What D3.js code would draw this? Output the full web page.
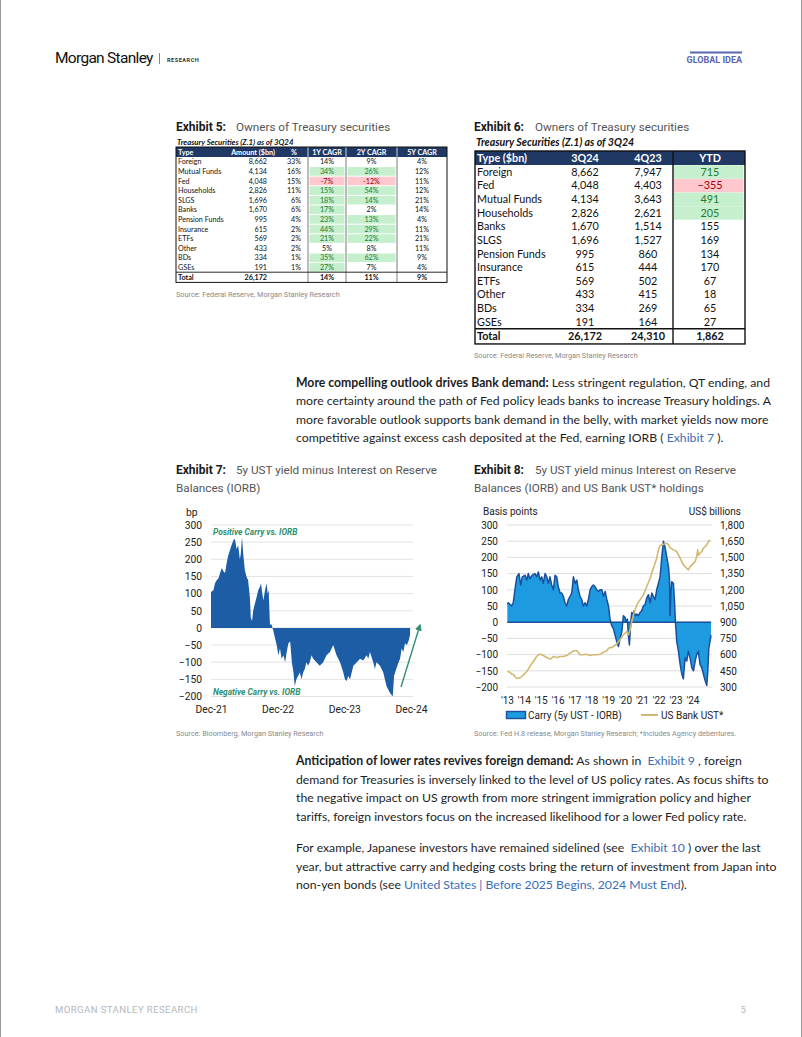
<!DOCTYPE html>
<html><head><meta charset="utf-8">
<script src="https://cdn.jsdelivr.net/npm/d3@7"></script>
<style>body{margin:0;background:#fff}svg{display:block}</style>
</head><body>
<script>
// ---------------- DATA ----------------
const ex5Headers = ["Type","Amount ($bn)","%","1Y CAGR","2Y CAGR","5Y CAGR"];
const ex5Types = ["Foreign","Mutual Funds","Fed","Households","SLGS","Banks","Pension Funds","Insurance","ETFs","Other","BDs","GSEs"];
const ex5Amount = [8662,4134,4048,2826,1696,1670,995,615,569,433,334,191];
const ex5Share = [33,16,15,11,6,6,4,2,2,2,1,1];
const ex5Cagr1y = [14,34,-7,15,18,17,23,44,21,5,35,27];
const ex5Cagr2y = [9,26,-12,54,14,2,13,29,22,8,62,7];
const ex5Cagr5y = [4,12,11,12,21,14,4,11,21,11,9,4];
const ex5Total = [26172,14,11,9];

const ex6Headers = ["Type ($bn)","3Q24","4Q23","YTD"];
const ex6Types = ["Foreign","Fed","Mutual Funds","Households","Banks","SLGS","Pension Funds","Insurance","ETFs","Other","BDs","GSEs"];
const ex6Q324 = [8662,4048,4134,2826,1670,1696,995,615,569,433,334,191];
const ex6Q423 = [7947,4403,3643,2621,1514,1527,860,444,502,415,269,164];
const ex6Ytd = [715,-355,491,205,155,169,134,170,67,18,65,27];
const ex6Total = [26172,24310,1862];

// Exhibit 7: 5y UST minus IORB (bp)
const ex7Dates = ["2021-12-01","2021-12-14","2021-12-23","2022-01-02","2022-01-11","2022-01-20","2022-01-29","2022-02-07","2022-02-16","2022-02-25","2022-03-05","2022-03-14","2022-03-23","2022-04-02","2022-04-11","2022-04-20","2022-04-29","2022-05-08","2022-05-13","2022-05-20","2022-05-26","2022-06-04","2022-06-13","2022-06-22","2022-07-02","2022-07-07","2022-07-14","2022-07-20","2022-07-29","2022-08-08","2022-08-17","2022-08-26","2022-09-01","2022-09-08","2022-09-14","2022-09-23","2022-10-02","2022-10-07","2022-10-13","2022-10-20","2022-10-29","2022-11-08","2022-11-17","2022-11-26","2022-12-05","2022-12-14","2022-12-23","2023-01-02","2023-01-11","2023-01-20","2023-01-29","2023-02-08","2023-02-17","2023-02-26","2023-03-05","2023-03-14","2023-03-23","2023-04-02","2023-04-11","2023-04-20","2023-04-29","2023-05-08","2023-05-17","2023-05-26","2023-06-05","2023-06-14","2023-07-02","2023-07-20","2023-08-08","2023-08-26","2023-09-14","2023-10-02","2023-10-11","2023-10-20","2023-11-08","2023-11-26","2023-12-05","2023-12-14","2023-12-23","2024-01-02","2024-01-11","2024-01-20","2024-02-08","2024-02-26","2024-03-14","2024-04-02","2024-04-11","2024-04-20","2024-05-08","2024-05-17","2024-05-26","2024-06-14","2024-07-02","2024-07-20","2024-08-08","2024-08-23","2024-08-30","2024-09-11","2024-09-24","2024-10-02","2024-10-11","2024-10-20","2024-10-29","2024-11-08","2024-11-17","2024-11-26"];
const ex7Values = [105,110,130,140,145,160,175,165,160,190,210,225,240,255,260,230,240,200,215,265,220,170,150,140,90,30,20,50,70,90,110,120,130,100,80,110,130,100,110,10,10,-10,-30,-50,-80,-60,-90,-80,-100,-70,-45,-40,-100,-130,-170,-150,-140,-130,-150,-130,-120,-100,-110,-100,-80,-90,-100,-110,-100,-80,-70,-50,-65,-80,-100,-130,-150,-155,-140,-150,-130,-110,-100,-90,-95,-80,-90,-70,-100,-120,-100,-110,-130,-170,-190,-200,-140,-120,-100,-90,-60,-70,-45,-50,-40,-20];
const ex7Ticks = [-200,-150,-100,-50,0,50,100,150,200,250,300];
const ex7XTicks = ["2021-12-01","2022-12-01","2023-12-01","2024-12-01"];

// Exhibit 8: carry (bp, left axis) and US bank UST holdings (US$ bn, right axis)
const ex8CarryYears = [2013.02,2013.08,2013.28,2013.37,2013.47,2013.58,2013.71,2013.81,2013.91,2014.07,2014.17,2014.26,2014.36,2014.50,2014.66,2014.76,2014.86,2014.96,2015.06,2015.15,2015.26,2015.36,2015.45,2015.55,2015.65,2015.75,2015.85,2015.95,2016.04,2016.15,2016.25,2016.34,2016.44,2016.54,2016.64,2016.74,2016.84,2016.94,2017.04,2017.14,2017.23,2017.33,2017.43,2017.53,2017.63,2017.73,2017.83,2017.93,2018.03,2018.12,2018.22,2018.32,2018.42,2018.52,2018.62,2018.72,2018.82,2018.92,2019.02,2019.11,2019.21,2019.31,2019.41,2019.51,2019.61,2019.71,2019.81,2019.90,2020.00,2020.06,2020.14,2020.20,2020.26,2020.34,2020.40,2020.50,2020.54,2020.60,2020.70,2020.79,2020.89,2020.99,2021.09,2021.19,2021.29,2021.39,2021.49,2021.59,2021.68,2021.78,2021.88,2021.98,2022.08,2022.18,2022.28,2022.38,2022.48,2022.58,2022.64,2022.67,2022.73,2022.77,2022.87,2022.93,2022.99,2023.07,2023.17,2023.27,2023.37,2023.46,2023.56,2023.66,2023.76,2023.86,2023.96,2024.06,2024.16,2024.25,2024.35,2024.45,2024.55,2024.65,2024.75,2024.85,2024.91,2024.97,2025.04,2025.10];
const ex8Carry = [55,60,50,60,100,140,150,115,140,145,130,150,135,145,150,140,155,130,140,120,150,140,120,140,115,100,145,140,110,90,90,80,60,50,70,80,90,140,120,130,100,80,70,50,60,50,70,100,110,115,110,100,95,100,100,80,95,70,50,10,-10,-20,-40,-60,-75,-50,-30,20,15,0,10,-40,-70,0,30,25,35,20,25,20,30,35,50,55,75,85,60,90,80,70,100,120,140,200,250,230,200,170,130,20,100,125,120,70,0,-60,-90,-130,-160,-175,-110,-120,-90,-110,-140,-150,-120,-100,-90,-130,-140,-160,-180,-195,-150,-80,-60,-40];
const ex8UstYears = [2013.02,2013.18,2013.28,2013.37,2013.47,2013.58,2013.67,2013.81,2013.97,2014.17,2014.36,2014.56,2014.76,2014.86,2014.96,2015.06,2015.15,2015.26,2015.36,2015.55,2015.65,2015.75,2015.95,2016.15,2016.34,2016.54,2016.74,2016.94,2017.14,2017.23,2017.33,2017.53,2017.73,2017.93,2018.12,2018.32,2018.52,2018.72,2018.92,2019.02,2019.11,2019.21,2019.31,2019.51,2019.71,2019.90,2020.10,2020.20,2020.30,2020.40,2020.50,2020.70,2020.89,2021.09,2021.29,2021.49,2021.68,2021.88,2021.98,2022.08,2022.28,2022.48,2022.58,2022.67,2022.87,2023.07,2023.27,2023.46,2023.66,2023.76,2023.86,2023.96,2024.06,2024.16,2024.25,2024.31,2024.35,2024.45,2024.55,2024.65,2024.75,2024.85,2024.95,2025.04];
const ex8Ust = [443,437,418,418,397,381,381,388,412,443,490,536,582,598,604,598,591,582,573,560,567,582,573,582,582,591,613,635,635,622,598,598,604,591,598,598,604,622,635,659,665,665,675,698,740,783,814,783,829,906,968,1060,1107,1153,1230,1307,1400,1493,1570,1610,1622,1631,1616,1591,1570,1554,1493,1431,1400,1385,1415,1431,1446,1462,1508,1570,1520,1539,1554,1585,1600,1616,1647,1662];
const ex8LeftTicks = [-200,-150,-100,-50,0,50,100,150,200,250,300];
const ex8RightTicks = [300,450,600,750,900,1050,1200,1350,1500,1650,1800];
const ex8YearTicks = [2013,2014,2015,2016,2017,2018,2019,2020,2021,2022,2023,2024];

// ---------------- PAGE ----------------
const W = 802, H = 1037;
const svg = d3.select("body").append("svg").attr("width", W).attr("height", H);
const SANS = "Roboto, 'Noto Sans', sans-serif";
const BODY = "Lato, 'Noto Sans', sans-serif";
const TBL = "Lato, 'Noto Sans', sans-serif";

svg.append("rect").attr("width", W).attr("height", H).attr("fill", "#fff");
svg.append("line").attr("x1",0.5).attr("x2",0.5).attr("y1",0).attr("y2",H).attr("stroke","#9a9a9a");
svg.append("line").attr("x1",W-0.5).attr("x2",W-0.5).attr("y1",0).attr("y2",H).attr("stroke","#9a9a9a");

// header
svg.append("text").attr("x",55).attr("y",63).attr("font-family",SANS).attr("font-size",15.5)
  .attr("letter-spacing",-0.7).attr("fill","#111").text("Morgan Stanley");
svg.append("line").attr("x1",159.5).attr("x2",159.5).attr("y1",53).attr("y2",64).attr("stroke","#666").attr("stroke-width",0.8);
svg.append("text").attr("x",167).attr("y",61.5).attr("font-family",SANS).attr("font-weight",700).attr("font-size",5.6)
  .attr("letter-spacing",0.5).attr("fill","#333").text("RESEARCH");
svg.append("line").attr("x1",690).attr("x2",742).attr("y1",52.5).attr("y2",52.5).attr("stroke","#5a66b0").attr("stroke-width",1.8);
svg.append("text").attr("x",742).attr("y",62.5).attr("text-anchor","end").attr("font-family",SANS).attr("font-weight",700)
  .attr("font-size",9).attr("fill","#5a66b0").text("GLOBAL IDEA");

// footer
svg.append("text").attr("x",55).attr("y",1013).attr("font-family",SANS).attr("font-size",9.6).attr("letter-spacing",0.4)
  .attr("fill","#b4b8bd").text("MORGAN STANLEY RESEARCH");
svg.append("text").attr("x",746).attr("y",1013).attr("text-anchor","end").attr("font-family",SANS).attr("font-size",9.6)
  .attr("fill","#b4b8bd").text("5");

function exTitle(x, y, label, lines, descX) {
  svg.append("text").attr("x",x).attr("y",y).attr("font-family",SANS).attr("font-weight",700).attr("font-size",12)
    .attr("fill","#1a1a1a").text(label);
  lines.forEach((t,i)=>{
    svg.append("text").attr("x", i===0 ? descX : x).attr("y", y + i*18).attr("font-family",SANS).attr("font-size",11.7)
      .attr("fill","#555").text(t);
  });
}
function source(x, y, t) {
  svg.append("text").attr("x",x).attr("y",y).attr("font-family",SANS).attr("font-size",7.3).attr("fill","#8a8a8a").text(t);
}

const NAVY = "#1f3864", GREEN_BG = "#c6efce", GREEN_TX = "#1e7b34", RED_BG = "#ffc7ce", RED_TX = "#9c0006";
const fmtC = d3.format(",");

// ---------------- EXHIBIT 5 ----------------
exTitle(176, 131, "Exhibit 5:", ["Owners of Treasury securities"], 236);
svg.append("text").attr("x",177).attr("y",144.5).attr("font-family",TBL).attr("font-style","italic").attr("font-weight",700)
  .attr("font-size",7.8).attr("fill","#111").text("Treasury Securities (Z.1) as of 3Q24");
(function(){
  const g = svg.append("g");
  const edges = [176,232,278,308,346,397,447];
  const top = 147, hh = 10, rh = 9.6;
  const fs = 7.2;
  g.append("rect").attr("x",edges[0]).attr("y",top).attr("width",edges[6]-edges[0]).attr("height",hh).attr("fill",NAVY);
  [3,4,5].forEach(i=> g.append("line").attr("x1",edges[i]).attr("x2",edges[i]).attr("y1",top).attr("y2",top+hh).attr("stroke","#fff").attr("stroke-width",0.8));
  const hx = [178,253,294,327,371.5,422], ha = ["start","middle","middle","middle","middle","middle"];
  ex5Headers.forEach((h,i)=> g.append("text").attr("x",hx[i]).attr("y",top+7.5).attr("text-anchor",ha[i])
    .attr("font-family",TBL).attr("font-weight",700).attr("font-size",fs).attr("fill","#fff").text(h));
  const y0 = top + hh;
  const rowY = i => y0 + i*rh;
  function hl(vals, tot, c0, c1) {
    vals.forEach((v,i)=>{
      let bg = null;
      if (v < 0) bg = RED_BG; else if (v > tot) bg = GREEN_BG;
      if (bg) g.append("rect").attr("x",edges[c0]+1.5).attr("y",rowY(i)+0.5).attr("width",edges[c1]-edges[c0]-3).attr("height",rh-1).attr("fill",bg);
    });
  }
  hl(ex5Cagr1y, ex5Total[1], 3, 4);
  hl(ex5Cagr2y, ex5Total[2], 4, 5);
  const pct = v => v + "%";
  const txtColor = (v, tot) => v < 0 ? RED_TX : (v > tot ? GREEN_TX : "#111");
  ex5Types.forEach((t,i)=>{
    const yb = rowY(i) + 7.3;
    const row = [
      {x:178, a:"start", t:t, c:"#111"},
      {x:267, a:"end", t:fmtC(ex5Amount[i]), c:"#111"},
      {x:301, a:"end", t:pct(ex5Share[i]), c:"#111"},
      {x:327, a:"middle", t:pct(ex5Cagr1y[i]), c:txtColor(ex5Cagr1y[i], ex5Total[1])},
      {x:371.5, a:"middle", t:pct(ex5Cagr2y[i]), c:txtColor(ex5Cagr2y[i], ex5Total[2])},
      {x:422, a:"middle", t:pct(ex5Cagr5y[i]), c:"#111"}
    ];
    row.forEach(r=> g.append("text").attr("x",r.x).attr("y",yb).attr("text-anchor",r.a).attr("font-family",TBL)
      .attr("font-size",fs).attr("fill",r.c).text(r.t));
  });
  const ty = rowY(12);
  g.append("line").attr("x1",edges[0]).attr("x2",edges[6]).attr("y1",ty).attr("y2",ty).attr("stroke","#111").attr("stroke-width",0.9);
  const tot = [{x:178,a:"start",t:"Total"},{x:267,a:"end",t:fmtC(ex5Total[0])},{x:327,a:"middle",t:pct(ex5Total[1])},{x:371.5,a:"middle",t:pct(ex5Total[2])},{x:422,a:"middle",t:pct(ex5Total[3])}];
  tot.forEach(r=> g.append("text").attr("x",r.x).attr("y",ty+7.4).attr("text-anchor",r.a).attr("font-family",TBL)
    .attr("font-weight",700).attr("font-size",fs).attr("fill","#111").text(r.t));
  const bottom = ty + rh + 0.6;
  [3,4,5].forEach(i=> g.append("line").attr("x1",edges[i]).attr("x2",edges[i]).attr("y1",y0).attr("y2",bottom).attr("stroke","#222").attr("stroke-width",0.6));
  g.append("rect").attr("x",edges[0]).attr("y",top).attr("width",edges[6]-edges[0]).attr("height",bottom-top)
    .attr("fill","none").attr("stroke","#111").attr("stroke-width",1);
})();
source(176, 297, "Source: Federal Reserve, Morgan Stanley Research");

// ---------------- EXHIBIT 6 ----------------
exTitle(474, 131, "Exhibit 6:", ["Owners of Treasury securities"], 535);
svg.append("text").attr("x",476).attr("y",146).attr("font-family",TBL).attr("font-style","italic").attr("font-weight",700)
  .attr("font-size",10.6).attr("fill","#111").text("Treasury Securities (Z.1) as of 3Q24");
(function(){
  const g = svg.append("g");
  const L = 475, R = 745, div = 673;
  const top = 151, hh = 14, rh = 13.65, fs = 10.8;
  g.append("rect").attr("x",L).attr("y",top).attr("width",R-L).attr("height",hh).attr("fill",NAVY);
  const hx = [477,585,648,710], ha = ["start","middle","middle","middle"];
  ex6Headers.forEach((h,i)=> g.append("text").attr("x",hx[i]).attr("y",top+10.8).attr("text-anchor",ha[i])
    .attr("font-family",TBL).attr("font-weight",700).attr("font-size",fs).attr("fill","#fff").text(h));
  const y0 = top + hh;
  const rowY = i => y0 + i*rh;
  const top3 = ex6Ytd.slice().sort((a,b)=>b-a)[2];
  ex6Ytd.forEach((v,i)=>{
    let bg = null;
    if (v < 0) bg = RED_BG; else if (v >= top3) bg = GREEN_BG;
    if (bg) g.append("rect").attr("x",div+1).attr("y",rowY(i)+0.3).attr("width",R-div-2.5).attr("height",rh-0.2).attr("fill",bg);
  });
  ex6Types.forEach((t,i)=>{
    const yb = rowY(i) + 10.6;
    const v = ex6Ytd[i];
    const c = v < 0 ? RED_TX : (v >= top3 ? GREEN_TX : "#111");
    [{x:477,a:"start",t:t,c:"#111"},{x:585,a:"middle",t:fmtC(ex6Q324[i]),c:"#111"},{x:648,a:"middle",t:fmtC(ex6Q423[i]),c:"#111"},{x:710,a:"middle",t:fmtC(v),c:c}]
      .forEach(r=> g.append("text").attr("x",r.x).attr("y",yb).attr("text-anchor",r.a).attr("font-family",TBL)
        .attr("font-size",fs).attr("fill",r.c).text(r.t));
  });
  const ty = rowY(12);
  g.append("line").attr("x1",L).attr("x2",R).attr("y1",ty).attr("y2",ty).attr("stroke","#111").attr("stroke-width",1.4);
  [{x:477,a:"start",t:"Total"},{x:585,a:"middle",t:fmtC(ex6Total[0])},{x:648,a:"middle",t:fmtC(ex6Total[1])},{x:710,a:"middle",t:fmtC(ex6Total[2])}]
    .forEach(r=> g.append("text").attr("x",r.x).attr("y",ty+10.8).attr("text-anchor",r.a).attr("font-family",TBL)
      .attr("font-weight",700).attr("font-size",fs).attr("fill","#111").text(r.t));
  const bottom = ty + rh + 1.5;
  g.append("line").attr("x1",div).attr("x2",div).attr("y1",top).attr("y2",bottom).attr("stroke","#111").attr("stroke-width",1.4);
  g.append("rect").attr("x",L).attr("y",top).attr("width",R-L).attr("height",bottom-top)
    .attr("fill","none").attr("stroke","#111").attr("stroke-width",1.4);
})();
source(474, 358, "Source: Federal Reserve, Morgan Stanley Research");

// ---------------- BODY TEXT ----------------
const LINK = "#3a6db5";
const paras = [];
function para(x, y0, lh, lines, fullLines) {
  const texts = lines.map((segs, i)=>{
    const t = svg.append("text").attr("x",x).attr("y",y0 + i*lh).attr("font-family",BODY).attr("font-size",13).attr("fill","#1e1e1e")
      .attr("xml:space","preserve");
    segs.forEach(s=>{
      const sp = t.append("tspan").text(s.t);
      if (s.b) sp.attr("font-weight",700);
      if (s.l) sp.attr("fill",LINK);
    });
    return t;
  });
  paras.push({texts, fullLines});
}
para(296, 387, 18.4, [
  [{t:"More compelling outlook drives Bank demand:",b:1},{t:" Less stringent regulation, QT ending, and"}],
  [{t:"more certainty around the path of Fed policy leads banks to increase Treasury holdings. A"}],
  [{t:"more favorable outlook supports bank demand in the belly, with market yields now more"}],
  [{t:"competitive against excess cash deposited at the Fed, earning IORB ("},{t:" Exhibit 7 ",l:1},{t:")."}]
], {0:477, 1:476});
para(296, 765, 18.6, [
  [{t:"Anticipation of lower rates revives foreign demand:",b:1},{t:" As shown in "},{t:" Exhibit 9",l:1},{t:" , foreign"}],
  [{t:"demand for Treasuries is inversely linked to the level of US policy rates. As focus shifts to"}],
  [{t:"the negative impact on US growth from more stringent immigration policy and higher"}],
  [{t:"tariffs, foreign investors focus on the increased likelihood for a lower Fed policy rate."}]
], {1:473});
para(296, 852, 18.6, [
  [{t:"For example, Japanese investors have remained sidelined (see "},{t:" Exhibit 10",l:1},{t:" ) over the last"}],
  [{t:"year, but attractive carry and hedging costs bring the return of investment from Japan into"}],
  [{t:"non-yen bonds (see "},{t:"United States | Before 2025 Begins, 2024 Must End",l:1},{t:")."}]
], {1:476, 2:364});
// choose one body font size so that full-width lines match the page measure
(function(){
  const ratios = [];
  paras.forEach(p=> Object.keys(p.fullLines).forEach(k=>{
    const len = p.texts[+k].node().getComputedTextLength();
    if (len > 0) ratios.push(p.fullLines[k] / len);
  }));
  const r = d3.median(ratios) || 1;
  const fs = 13 * r;
  paras.forEach(p=> p.texts.forEach(t=> t.attr("font-size", fs)));
})();

// ---------------- EXHIBIT 7 ----------------
exTitle(176, 474, "Exhibit 7:", ["5y UST yield minus Interest on Reserve", "Balances (IORB)"], 236);
(function(){
  const parse = d3.timeParse("%Y-%m-%d");
  const data = ex7Dates.map((d,i)=>({d:parse(d), v:ex7Values[i]}));
  const x = d3.scaleTime().domain([parse("2021-12-01"), parse("2024-12-01")]).range([211, 411]);
  const y = d3.scaleLinear().domain([-200, 300]).range([696.5, 525]);
  const g = svg.append("g");
  g.append("g").selectAll("line").data(ex7Ticks).join("line")
    .attr("x1",211).attr("x2",413).attr("y1",d=>y(d)).attr("y2",d=>y(d)).attr("stroke","#dcdcdc").attr("stroke-width",0.8);
  const yAxis = d3.axisLeft(y).tickValues(ex7Ticks).tickSize(0).tickPadding(0);
  const ya = g.append("g").attr("transform","translate(202,0)").call(yAxis);
  ya.select(".domain").remove();
  ya.selectAll("text").attr("font-family",SANS).attr("font-size",10.3).attr("fill","#222");
  g.append("text").attr("x",186).attr("y",516).attr("font-family",SANS).attr("font-size",10.3).attr("fill","#222").text("bp");
  const area = d3.area().x(d=>x(d.d)).y0(y(0)).y1(d=>y(d.v)).curve(d3.curveLinear);
  g.append("path").datum(data).attr("d",area).attr("fill","#1c5da6");
  const xAxis = d3.axisBottom(x).tickValues(ex7XTicks.map(parse)).tickFormat(d3.timeFormat("%b-%y")).tickSize(0).tickPadding(0);
  const xa = g.append("g").attr("transform","translate(0,713)").call(xAxis);
  xa.select(".domain").remove();
  xa.selectAll("text").attr("font-family",SANS).attr("font-size",10.3).attr("fill","#222").attr("dy",0);
  const GR = "#2f9070";
  g.append("text").attr("x",213).attr("y",534.5).attr("font-family",SANS).attr("font-weight",700).attr("font-style","italic")
    .attr("font-size",8.4).attr("fill",GR).text("Positive Carry vs. IORB");
  g.append("text").attr("x",213).attr("y",695).attr("font-family",SANS).attr("font-weight",700).attr("font-style","italic")
    .attr("font-size",8.4).attr("fill",GR).text("Negative Carry vs. IORB");
  svg.append("defs").append("marker").attr("id","arr").attr("viewBox","0 0 10 10").attr("refX",8).attr("refY",5)
    .attr("markerWidth",5).attr("markerHeight",5).attr("orient","auto")
    .append("path").attr("d","M0,0L10,5L0,10Z").attr("fill",GR);
  g.append("line").attr("x1",401).attr("y1",687).attr("x2",420).attr("y2",625).attr("stroke",GR).attr("stroke-width",1.4)
    .attr("marker-end","url(#arr)");
})();
source(176, 736, "Source: Bloomberg, Morgan Stanley Research");

// ---------------- EXHIBIT 8 ----------------
exTitle(474, 474, "Exhibit 8:", ["5y UST yield minus Interest on Reserve", "Balances (IORB) and US Bank UST* holdings"], 535);
(function(){
  const x = d3.scaleLinear().domain([2013, 2025.1]).range([507, 711]);
  const yL = d3.scaleLinear().domain([-200, 300]).range([687, 525]);
  const yR = d3.scaleLinear().domain([300, 1800]).range([687, 525]);
  const g = svg.append("g");
  g.append("g").selectAll("line").data(ex8LeftTicks).join("line")
    .attr("x1",507).attr("x2",712).attr("y1",d=>yL(d)).attr("y2",d=>yL(d)).attr("stroke","#d6d6d6").attr("stroke-width",0.8);
  const la = g.append("g").attr("transform","translate(498,0)").call(d3.axisLeft(yL).tickValues(ex8LeftTicks).tickSize(0).tickPadding(0));
  la.select(".domain").remove();
  la.selectAll("text").attr("font-family",SANS).attr("font-size",10).attr("fill","#222");
  const ra = g.append("g").attr("transform","translate(720,0)").call(d3.axisRight(yR).tickValues(ex8RightTicks).tickFormat(d3.format(",")).tickSize(0).tickPadding(0));
  ra.select(".domain").remove();
  ra.selectAll("text").attr("font-family",SANS).attr("font-size",10).attr("fill","#222");
  g.append("text").attr("x",483).attr("y",515).attr("font-family",SANS).attr("font-size",10).attr("fill","#222").text("Basis points");
  g.append("text").attr("x",741).attr("y",515).attr("text-anchor","end").attr("font-family",SANS).attr("font-size",10).attr("fill","#222").text("US$ billions");

  const carry = ex8CarryYears.map((t,i)=>({t, v:ex8Carry[i]}));
  const ust = ex8UstYears.map((t,i)=>({t, v:ex8Ust[i]}));
  const area = d3.area().x(d=>x(d.t)).y0(yL(0)).y1(d=>yL(d.v));
  g.append("path").datum(carry).attr("d",area).attr("fill","#1e9be0");
  g.append("path").datum(carry).attr("d",d3.line().x(d=>x(d.t)).y(d=>yL(d.v))).attr("fill","none")
    .attr("stroke","#1b4f9c").attr("stroke-width",1.5).attr("stroke-linejoin","round");
  g.append("line").attr("x1",x(ex8CarryYears[0])).attr("x2",x(ex8CarryYears[ex8CarryYears.length-1]))
    .attr("y1",yL(0)).attr("y2",yL(0)).attr("stroke","#1b4f9c").attr("stroke-width",1.6);
  g.append("path").datum(ust).attr("d",d3.line().x(d=>x(d.t)).y(d=>yR(d.v))).attr("fill","none")
    .attr("stroke","#d2b870").attr("stroke-width",1.6).attr("stroke-linejoin","round");

  const xa = g.append("g").attr("transform","translate(0,704)").call(
    d3.axisBottom(x).tickValues(ex8YearTicks).tickFormat(d=>"'" + String(d).slice(2)).tickSize(0).tickPadding(0));
  xa.select(".domain").remove();
  xa.selectAll("text").attr("font-family",SANS).attr("font-size",10).attr("fill","#222").attr("dy",0);

  g.append("rect").attr("x",506.5).attr("y",711.5).attr("width",19).attr("height",7).attr("fill","#1e9be0")
    .attr("stroke","#1b4f9c").attr("stroke-width",1.4);
  g.append("text").attr("x",528).attr("y",719).attr("font-family",SANS).attr("font-size",10).attr("fill","#222").text("Carry (5y UST - IORB)");
  g.append("line").attr("x1",641).attr("x2",658).attr("y1",715).attr("y2",715).attr("stroke","#d2b870").attr("stroke-width",2);
  g.append("text").attr("x",661).attr("y",719).attr("font-family",SANS).attr("font-size",10).attr("fill","#222").text("US Bank UST*");
})();
source(474, 736, "Source: Fed H.8 release, Morgan Stanley Research; *Includes Agency debentures.");
</script>
</body></html>
